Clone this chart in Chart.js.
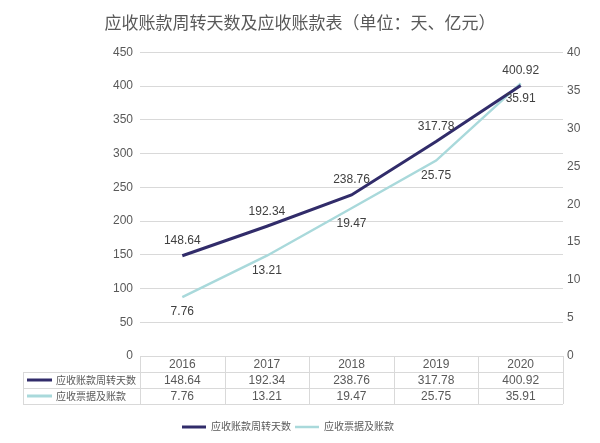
<!DOCTYPE html>
<html>
<head>
<meta charset="utf-8">
<script src="https://cdn.jsdelivr.net/npm/chart.js@4"></script>
<style>
  html, body { margin: 0; padding: 0; background: #fff; }
  #wrap { width: 600px; height: 443px; }
</style>
</head>
<body>
<div id="wrap"><canvas id="chart" width="600" height="443"></canvas></div>
<script>
const years = ["2016", "2017", "2018", "2019", "2020"];
const turnoverDays = [148.64, 192.34, 238.76, 317.78, 400.92];
const receivables = [7.76, 13.21, 19.47, 25.75, 35.91];
const seriesNames = ["应收账款周转天数", "应收票据及账款"];
const titleText = "应收账款周转天数及应收账款表（单位：天、亿元）";

const FONT = "'Liberation Sans', 'Noto Sans CJK SC', sans-serif";
const TEXT = "#595959";
const DARK = "#312C6A";
const LIGHT = "#A9D9DB";
const GRID = "#D9D9D9";

// value labels: dark series above the point, light series below
const pointLabels = {
  id: "pointLabels",
  afterDatasetsDraw(chart) {
    const ctx = chart.ctx;
    ctx.save();
    ctx.font = "12px " + FONT;
    ctx.fillStyle = "#404040";
    ctx.textAlign = "center";
    ctx.textBaseline = "middle";
    chart.data.datasets.forEach((ds, i) => {
      const meta = chart.getDatasetMeta(i);
      meta.data.forEach((pt, j) => {
        const dy = i === 0 ? -15 : 15;
        ctx.fillText(ds.data[j].toFixed(2), pt.x, pt.y + dy);
      });
    });
    ctx.restore();
  },
};

// legend sits a little left of centre in the original
const legendShift = {
  id: "legendShift",
  afterLayout(chart) {
    chart.legend.left -= 12;
    chart.legend.right -= 12;
  },
};

// data table under the x axis, columns follow the category scale
const dataTable = {
  id: "dataTable",
  afterDraw(chart) {
    const ctx = chart.ctx;
    const area = chart.chartArea;
    const x = chart.scales.x;
    const colW = (area.right - area.left) / years.length;
    const rowH = 16;
    const top = area.bottom;
    const labelLeft = 23;
    ctx.save();
    ctx.strokeStyle = GRID;
    ctx.lineWidth = 1;
    ctx.beginPath();
    ctx.moveTo(area.left, top + 0.5);
    ctx.lineTo(area.right, top + 0.5);
    for (let r = 1; r <= 3; r++) {
      const y = Math.round(top + r * rowH) + 0.5;
      ctx.moveTo(labelLeft, y);
      ctx.lineTo(area.right, y);
    }
    for (let c = 0; c <= years.length; c++) {
      const xx = Math.round(area.left + c * colW) + 0.5;
      ctx.moveTo(xx, top);
      ctx.lineTo(xx, top + 3 * rowH);
    }
    ctx.moveTo(labelLeft + 0.5, top + rowH);
    ctx.lineTo(labelLeft + 0.5, top + 3 * rowH);
    ctx.stroke();

    ctx.font = "12px " + FONT;
    ctx.fillStyle = TEXT;
    ctx.textAlign = "center";
    ctx.textBaseline = "middle";
    years.forEach((yr, j) => {
      const cx = x.getPixelForValue(j);
      ctx.fillText(yr, cx, top + rowH * 0.5 + 1);
      ctx.fillText(turnoverDays[j].toFixed(2), cx, top + rowH * 1.5 + 1);
      ctx.fillText(receivables[j].toFixed(2), cx, top + rowH * 2.5 + 1);
    });

    const colors = [DARK, LIGHT];
    ctx.font = "10px " + FONT;
    seriesNames.forEach((name, i) => {
      const cy = top + rowH * (i + 1.5);
      ctx.strokeStyle = colors[i];
      ctx.lineWidth = 3;
      ctx.beginPath();
      ctx.moveTo(27, cy);
      ctx.lineTo(52, cy);
      ctx.stroke();
      ctx.textAlign = "left";
      ctx.fillText(name, 56, cy + 1);
    });
    ctx.restore();
  },
};

new Chart(document.getElementById("chart"), {
  type: "line",
  data: {
    labels: years,
    datasets: [
      {
        label: seriesNames[0],
        data: turnoverDays,
        yAxisID: "y",
        borderColor: DARK,
        backgroundColor: DARK,
        borderWidth: 3,
        pointRadius: 0,
        tension: 0,
      },
      {
        label: seriesNames[1],
        data: receivables,
        yAxisID: "y1",
        borderColor: LIGHT,
        backgroundColor: LIGHT,
        borderWidth: 2.5,
        pointRadius: 0,
        tension: 0,
      },
    ],
  },
  options: {
    responsive: false,
    animation: false,
    layout: { padding: { left: 0, right: 0, top: 0, bottom: 1 } },
    scales: {
      x: {
        offset: true,
        grid: { display: false },
        border: { display: false },
        ticks: { display: false },
        afterFit: (axis) => { axis.height = 62; },
      },
      y: {
        position: "left",
        min: 0,
        max: 450,
        ticks: { stepSize: 50, color: TEXT, font: { size: 12, family: FONT }, padding: 7 },
        grid: { color: GRID, drawTicks: false },
        border: { display: false },
        afterFit: (axis) => { axis.width = 140; },
      },
      y1: {
        position: "right",
        min: 0,
        max: 40,
        ticks: { stepSize: 5, color: TEXT, font: { size: 12, family: FONT }, padding: 4 },
        grid: { display: false, drawTicks: false },
        border: { display: false },
        afterFit: (axis) => { axis.width = 37; },
      },
    },
    plugins: {
      title: {
        display: true,
        text: titleText,
        color: TEXT,
        font: { size: 17, family: FONT, weight: "normal" },
        padding: { top: 14, bottom: 18 },
      },
      legend: {
        position: "bottom",
        labels: {
          usePointStyle: true,
          pointStyle: "line",
          pointStyleWidth: 24,
          color: TEXT,
          font: { size: 10, family: FONT },
          padding: 4,
        },
      },
      tooltip: { enabled: false },
    },
  },
  plugins: [pointLabels, legendShift, dataTable],
});
</script>
</body>
</html>
